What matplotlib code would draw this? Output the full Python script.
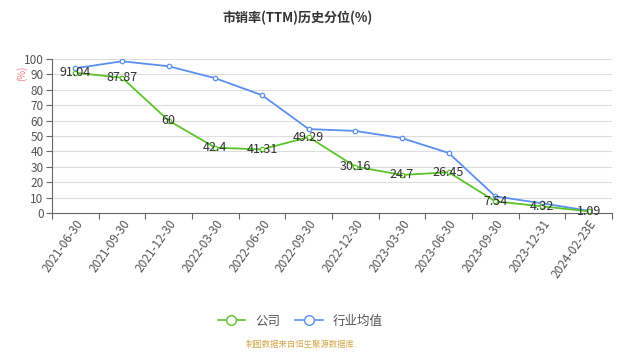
import matplotlib
matplotlib.use("Agg")
import matplotlib.pyplot as plt
from matplotlib.lines import Line2D

plt.rcParams['font.family'] = ['Noto Sans CJK SC', 'DejaVu Sans']

categories = ["2021-06-30", "2021-09-30", "2021-12-30", "2022-03-30", "2022-06-30",
              "2022-09-30", "2022-12-30", "2023-03-30", "2023-06-30", "2023-09-30",
              "2023-12-31", "2024-02-23E"]
company = [91.04, 87.87, 60, 42.4, 41.31, 49.29, 30.16, 24.7, 26.45, 7.54, 4.32, 1.09]
industry = [94.0, 98.5, 95.3, 87.5, 76.5, 54.5, 53.3, 48.6, 39.0, 10.8, 6.3, 1.5]
company_labels = ["91.04", "87.87", "60", "42.4", "41.31", "49.29", "30.16", "24.7",
                  "26.45", "7.54", "4.32", "1.09"]

fig = plt.figure(figsize=(6.34, 3.62), dpi=100)
ax = fig.add_axes([52/634, 1-213/362, 560/634, 154/362])

x = list(range(len(categories)))
green = "#5cc42a"
blue = "#5b8ff0"
ax.plot(x, industry, color=blue, lw=1.3, marker='o', ms=3.2, mfc='white', mec=blue, mew=0.9, zorder=3)
ax.plot(x, company, color=green, lw=1.3, marker='o', ms=3.2, mfc='white', mec=green, mew=0.9, zorder=4)
for xi, v, lab in zip(x, company, company_labels):
    ax.text(xi, v, lab, ha='center', va='center', fontsize=9, color='#333333', zorder=5)

ax.set_xlim(-0.5, len(categories)-0.5)
ax.set_ylim(0, 100)
ax.set_yticks(range(0, 101, 10))
ax.set_xticks([i-0.5 for i in range(len(categories)+1)], minor=False)
ax.set_xticklabels([])
ax.set_xticks(x, minor=True)
ax.set_xticklabels(categories, minor=True, rotation=55, ha='right', rotation_mode='anchor', fontsize=8.5, color='#555555')
ax.tick_params(axis='x', which='minor', length=0, pad=3)
ax.tick_params(axis='x', which='major', length=4, color='#666666')
ax.tick_params(axis='y', length=4, color='#666666', labelsize=8.5, labelcolor='#555555', pad=2)
ax.grid(axis='y', color='#dddddd', lw=0.8)
ax.set_axisbelow(True)
for s in ['top', 'right']:
    ax.spines[s].set_visible(False)
for s in ['left', 'bottom']:
    ax.spines[s].set_color('#666666')

fig.text(22/634, 1-73/362, "(%)", rotation=90, ha='center', va='center', fontsize=7, color='#f08080')
fig.text(298/634, 1-18/362, "市销率(TTM)历史分位(%)", ha='center', va='center', fontsize=9.4, fontweight='bold', color='#333333')

handles = [Line2D([0], [0], color=green, lw=1.2, marker='o', ms=7, mfc='white', mec=green),
           Line2D([0], [0], color=blue, lw=1.2, marker='o', ms=7, mfc='white', mec=blue)]
fig.legend(handles, ["公司", "行业均值"], loc='center', bbox_to_anchor=(300/634, 1-321/362),
           ncol=2, frameon=False, fontsize=9, handlelength=2.2, columnspacing=1.2, labelcolor='#555555')
fig.text(300/634, 1-344/362, "制图数据来自恒生聚源数据库", ha='center', va='center', fontsize=6, color='#d4a64a')

fig.savefig("out.png", dpi=100)
